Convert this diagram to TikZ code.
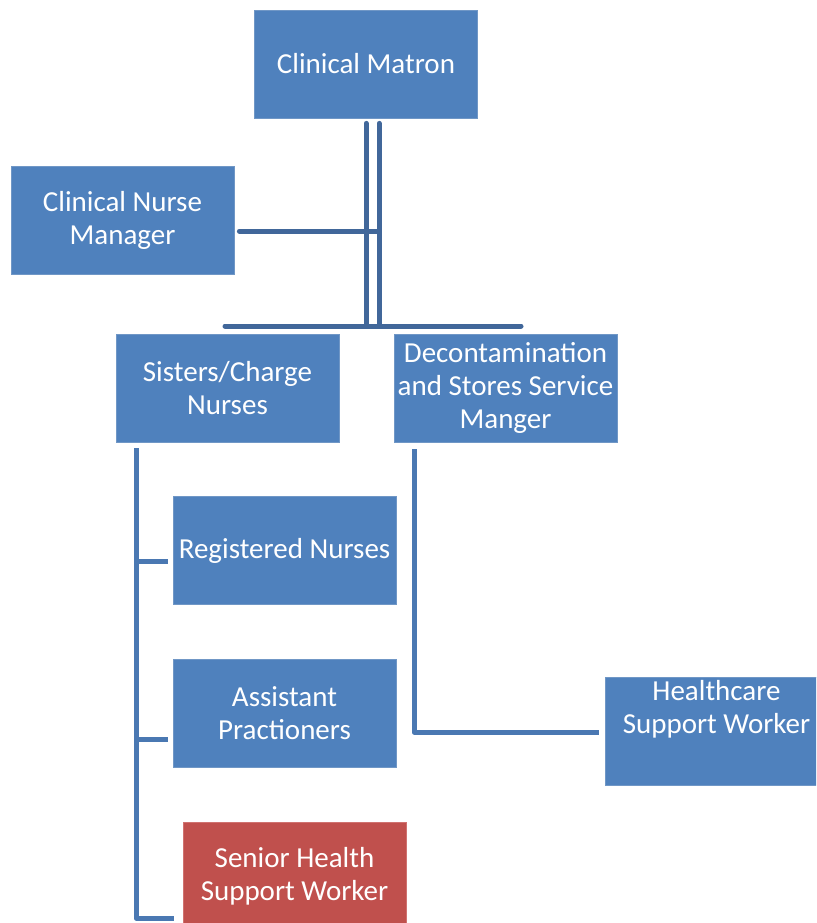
\documentclass[tikz,border=0pt]{standalone}
\usepackage{fontspec}
\setmainfont{Carlito}
\usetikzlibrary{calc}
\definecolor{boxblue}{HTML}{4F81BD}
\definecolor{boxedge}{HTML}{7097C6}
\definecolor{boxred}{HTML}{C0504D}
\definecolor{rededge}{HTML}{D07270}
\definecolor{darkline}{HTML}{41679A}
\definecolor{midline}{HTML}{4A78B2}
\tikzset{
  orgbox/.style={rectangle, fill=boxblue, draw=boxedge, line width=0.8pt,
    minimum width=223pt, minimum height=108pt, inner sep=0pt,
    text=white, align=center, font=\fontsize{29}{33}\selectfont},
  redbox/.style={orgbox, fill=boxred, draw=rededge},
  boxtext/.style={text=white, align=center, inner sep=0pt, font=\fontsize{29}{33}\selectfont},
  topline/.style={draw=darkline, line width=5pt, line cap=round},
  subline/.style={draw=midline, line width=5pt, line join=round, line cap=butt}
}
\begin{document}
\begin{tikzpicture}[x=1pt,y=-1pt]
\useasboundingbox (0,0) rectangle (816,923);
\clip (0,0) rectangle (816,923);
% boxes
\node[orgbox] (cm) at (366,64) {Clinical Matron};
\node[orgbox] (cnm) at (122.5,220) {Clinical Nurse\\Manager};
\node[orgbox] (scn) at (227.5,388) {Sisters/Charge\\Nurses};
\node[orgbox] (dss) at (505.5,388) {Decontamination\\and Stores Service\\Manger};
\node[orgbox] (rn) at (284.5,550.5) {Registered Nurses};
\node[orgbox] (ap) at (284.5,713) {Assistant\\Practioners};
\node[redbox] (shsw) at (294.5,876) {Senior Health\\Support Worker};
\node[orgbox] (hsw) at (716.5,731) {};
\node[boxtext] (hswt) at ($(hsw.center)+(0,-22)$) {Healthcare\\Support Worker};
% coordinates for connectors
\coordinate (cmA) at ($(cm.south)+(0,5)$);
\coordinate (cmB) at ($(cm.south)+(13,5)$);
\coordinate (busL) at (225,326);
\coordinate (busR) at (521,326);
\coordinate (busA) at (366,326);
\coordinate (busB) at (379,326);
\coordinate (cnmE) at ($(cnm.east)+(5,11)$);
\coordinate (cnmJ) at (379,231);
\coordinate (scnL) at (136,448);
\coordinate (scnB) at (136,918);
\coordinate (rnT) at (136,561);
\coordinate (apT) at (136,739);
\coordinate (rnE) at ($(rn.west)+(-5,10.5)$);
\coordinate (apE) at ($(ap.west)+(-5,26)$);
\coordinate (shE) at ($(shsw.west)+(-9,42)$);
\coordinate (dssL) at (414,449);
\coordinate (dssB) at (414,732);
\coordinate (hswE) at ($(hsw.west)+(-6,1)$);
% top connectors
\draw[topline] (cmA) -- (busA);
\draw[topline] (cmB) -- (busB);
\draw[topline] (cnmE) -- (cnmJ);
\draw[topline] (busL) -- (busR);
% left bracket
\draw[subline] (scnL) -- (scnB) -- (shE);
\draw[subline] (rnT) -- (rnE);
\draw[subline] (apT) -- (apE);
% decontamination connector
\draw[subline] (dssL) -- (dssB) -- (hswE);
\end{tikzpicture}
\end{document}
